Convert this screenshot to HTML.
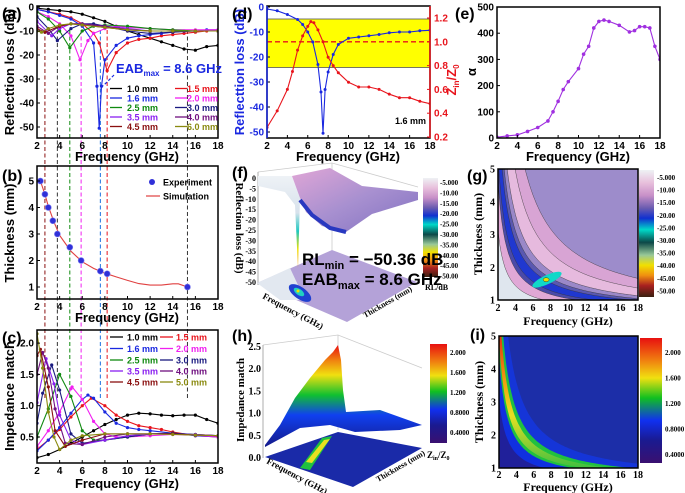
<!DOCTYPE html>
<html><head><meta charset="utf-8"><style>
html,body{margin:0;padding:0;background:#fff}
svg{display:block}
.t{font-family:"Liberation Sans",sans-serif;font-weight:bold}
.s{font-family:"Liberation Serif",serif;font-weight:bold}
</style></head><body>
<svg id="fig" width="685" height="493" viewBox="0 0 685 493" xmlns="http://www.w3.org/2000/svg">
<defs>
<clipPath id="cA"><rect x="37" y="6" width="181" height="132"/></clipPath>
<clipPath id="cB"><rect x="37" y="166" width="181" height="133"/></clipPath>
<clipPath id="cC"><rect x="37" y="330" width="181" height="133"/></clipPath>
<clipPath id="cD"><rect x="267" y="6" width="163" height="132"/></clipPath>
<clipPath id="cE"><rect x="497" y="7" width="163" height="131"/></clipPath>
<clipPath id="cG"><rect x="498" y="169" width="140" height="131"/></clipPath>
<clipPath id="cI"><rect x="499" y="336" width="139" height="132"/></clipPath>
<linearGradient id="rlbar" x1="0" y1="0" x2="0" y2="1">
<stop offset="0" stop-color="#eef2f4"/><stop offset="0.1" stop-color="#e8c0dc"/><stop offset="0.2" stop-color="#c890c8"/><stop offset="0.3" stop-color="#6a5cb0"/><stop offset="0.38" stop-color="#1030d0"/><stop offset="0.47" stop-color="#00d8c8"/><stop offset="0.57" stop-color="#0c4848"/><stop offset="0.67" stop-color="#98c898"/><stop offset="0.75" stop-color="#f0e000"/><stop offset="0.83" stop-color="#f09010"/><stop offset="0.91" stop-color="#a82020"/><stop offset="1" stop-color="#3a2010"/>
</linearGradient>
<linearGradient id="zbar" x1="0" y1="0" x2="0" y2="1">
<stop offset="0" stop-color="#e81010"/><stop offset="0.18" stop-color="#f08010"/><stop offset="0.32" stop-color="#f0e010"/><stop offset="0.48" stop-color="#10c020"/><stop offset="0.66" stop-color="#1030f0"/><stop offset="0.82" stop-color="#1a1a90"/><stop offset="1" stop-color="#3a1070"/>
</linearGradient>
<linearGradient id="ridge" x1="0" y1="345" x2="0" y2="445" gradientUnits="userSpaceOnUse">
<stop offset="0" stop-color="#e81010"/><stop offset="0.15" stop-color="#f08010"/><stop offset="0.3" stop-color="#f0e010"/><stop offset="0.5" stop-color="#10c030"/><stop offset="0.7" stop-color="#1040f0"/><stop offset="1" stop-color="#141c90"/>
</linearGradient>
<linearGradient id="iband" x1="0" y1="336" x2="0" y2="468" gradientUnits="userSpaceOnUse">
<stop offset="0" stop-color="#e83010"/><stop offset="0.35" stop-color="#f0a010"/><stop offset="0.6" stop-color="#e8e020"/><stop offset="1" stop-color="#40c040"/>
</linearGradient>
<linearGradient id="surfF" x1="0" y1="0" x2="1" y2="1">
<stop offset="0" stop-color="#e0a6d6"/><stop offset="0.5" stop-color="#a890d0"/><stop offset="1" stop-color="#8070c0"/>
</linearGradient>
<linearGradient id="cliff" x1="0" y1="0" x2="0" y2="1">
<stop offset="0" stop-color="#eef2f6"/><stop offset="0.4" stop-color="#d8e2ec"/><stop offset="0.6" stop-color="#20c8c0"/><stop offset="0.8" stop-color="#f0e000"/><stop offset="1" stop-color="#f09010"/>
</linearGradient>
</defs>

<!-- panel f 3D (static illustration) -->
<g>
<polyline points="258,172 332,163 418,187" fill="none" stroke="#ccc" stroke-width="0.8"/>
<line x1="332" y1="163" x2="332" y2="250" stroke="#ccc" stroke-width="0.8"/>
<line x1="258" y1="172" x2="258" y2="285" stroke="#999" stroke-width="0.8"/>
<polygon points="257,283 332,250 417,282 347,322" fill="#b4a2d8"/>
<polygon points="257,283 290,268 305,300 280,300" fill="#e2e8f0"/>
<ellipse cx="300" cy="293" rx="13" ry="6" transform="rotate(35 300 293)" fill="#2040d0"/>
<ellipse cx="299" cy="292" rx="6" ry="3" transform="rotate(35 299 292)" fill="#20d0c0"/>
<circle cx="298" cy="291" r="1.5" fill="#f0e000"/>
<polygon points="258,176 292,176 300,198 298,268 295,205 285,192 258,186" fill="url(#cliff)"/>
<polygon points="292,176 330,168 362,186 418,192 418,200 372,214 346,232 322,226 306,212 300,198" fill="url(#surfF)"/>
<polyline points="300,200 312,215 330,228 346,232" fill="none" stroke="#2838c0" stroke-width="4"/>
<rect x="423" y="178" width="15" height="99" fill="url(#rlbar)"/>
<text class="s" x="236" y="228" font-size="11" text-anchor="middle" transform="rotate(90 236 228)">Reflection loss (dB)</text>
<text class="s" x="262" y="298" font-size="9" transform="rotate(28 262 298)">Frequency (GHz)</text>
<text class="s" x="365" y="318" font-size="8" transform="rotate(-30 365 318)">Thickness (mm)</text>
<text class="s" x="425" y="290" font-size="8">RL/dB</text>
<text class="t" x="302" y="265" font-size="17">RL<tspan font-size="11" dy="4">min</tspan><tspan dy="-4"> = −50.36 dB</tspan></text>
<text class="t" x="302" y="285" font-size="17">EAB<tspan font-size="11" dy="4">max</tspan><tspan dy="-4"> = 8.6 GHz</tspan></text>
</g>

<!-- panel h 3D -->
<g>
<polyline points="263,345 338,335 422,368" fill="none" stroke="#ccc" stroke-width="0.8"/>
<line x1="338" y1="335" x2="338" y2="430" stroke="#ccc" stroke-width="0.8"/>
<line x1="263" y1="345" x2="263" y2="458" stroke="#999" stroke-width="0.8"/>
<polygon points="265,457 338,432 422,448 353,487" fill="#1a2aa8"/>
<polygon points="300,468 322,438 332,436 310,470" fill="#20c040"/>
<polygon points="306,462 324,440 330,439 312,463" fill="#e8e020"/>
<polygon points="265,445 280,425 295,398 310,378 325,360 333,352 338,345 341,360 343,390 346,412 380,410 422,425 400,430 355,432 330,425 300,428 265,447" fill="url(#ridge)"/>
<rect x="430" y="344" width="17" height="99" fill="url(#zbar)"/>
<text class="s" x="244" y="400" font-size="11" text-anchor="middle" transform="rotate(-90 244 400)">Impedance match</text>
<text class="s" x="266" y="463" font-size="9" transform="rotate(28 266 463)">Frequency (GHz)</text>
<text class="s" x="378" y="482" font-size="8" transform="rotate(-30 378 482)">Thickness (mm)</text>
<text class="s" x="427" y="458" font-size="9">Z<tspan font-size="6" dy="2">in</tspan><tspan dy="-2">/Z</tspan><tspan font-size="6" dy="2">0</tspan></text>
</g>
</svg>
<script>
// ---------- data ----------
const thickLabels=["1.0 mm","1.5 mm","1.6 mm","2.0 mm","2.5 mm","3.0 mm","3.5 mm","4.0 mm","4.5 mm","6.0 mm"];
const thickLabelsC=["1.0 mm","1.5 mm","1.6 mm","2.0 mm","2.5 mm","3.0 mm","3.5 mm","4.0 mm","4.5 mm","5.0 mm"];
const colors=["#000000","#e8141c","#1a28e0","#f020f0","#108a10","#1a1a80","#8a20f0","#701080","#8a1010","#8a8a10"];
const rlF0=[2,3,4,5,6,7,8,9,10,11,12,13,14,15,16,17,18];
const rlV0=[-0.5,-1,-1.5,-2,-3,-4.5,-6,-8,-10,-11.5,-13,-14.5,-16,-17.5,-18,-16.5,-16];
const rlF1=[2,3,4,5,6,7,7.5,8.2,9,10,11,12,13,14,15,16,17,18];
const rlV1=[-1,-2,-3,-4.5,-7,-11,-15,-26.5,-19,-15,-13.5,-13,-12,-11.5,-11,-10.5,-10,-10];
const rlF2=[2,3,4,5,6,7,7.3,7.5,7.7,8,9,10,11,12,13,14,15,16,17,18];
const rlV2=[-1,-2,-3.5,-5,-8,-15,-33,-50.5,-33,-22,-16,-13,-12,-11.5,-11,-10.5,-10,-10,-9.5,-9.5];
const rlF3=[2,3,4,5,5.8,6.5,7,8,9,10,12,14,16,18];
const rlV3=[-2,-4,-7,-12,-22,-14,-11,-9,-8,-8.5,-9,-9.5,-9.5,-9.5];
const rlF4=[2,3,4,4.9,6,7,8,10,12,14,16,18];
const rlV4=[-2,-5,-10,-17,-10,-8,-7.5,-8,-9,-9.5,-10,-10];
const rlF5=[2,3,3.8,5,6,7,8,10,12,14,16,18];
const rlV5=[-4,-9,-14,-9,-7,-7,-8,-10,-11,-10.5,-10,-10];
const rlF6=[2,3.3,4,5,6,8,10,12,14,16,18];
const rlV6=[-6,-12,-9,-7,-7,-8,-9,-10,-10,-10,-10];
const rlF7=[2,3,4,5,6,8,10,12,14,16,18];
const rlV7=[-8,-11,-8,-7,-7,-8,-9.5,-10,-10,-10,-10];
const rlF8=[2,2.7,4,5,6,8,10,12,14,16,18];
const rlV8=[-9,-10.5,-8,-7,-7.5,-8.5,-9.5,-10,-10,-10,-10];
const rlF9=[2,2.4,3,4,5,6,8,10,12,14,16,18];
const rlV9=[-10,-10.5,-9,-7.5,-7,-7.5,-8.5,-9.5,-10,-10,-10,-10];
const rlF=[rlF0,rlF1,rlF2,rlF3,rlF4,rlF5,rlF6,rlF7,rlF8,rlF9];
const rlV=[rlV0,rlV1,rlV2,rlV3,rlV4,rlV5,rlV6,rlV7,rlV8,rlV9];

const imF0=[2,3,4,5,6,7,8,9,10,11,12,13,14,15,16,17,18];
const imV0=[0.17,0.22,0.3,0.4,0.5,0.6,0.7,0.78,0.85,0.88,0.87,0.85,0.84,0.85,0.85,0.78,0.72];
const imF1=[2,3,4,5,6,6.8,8,9,10,11,12,13,14,16,18];
const imV1=[0.3,0.45,0.62,0.82,1.0,1.12,1.0,0.85,0.75,0.68,0.65,0.62,0.58,0.52,0.5];
const imF2=[2,3,4,5,6,6.5,7,8,9,10,11,12,14,16,18];
const imV2=[0.28,0.45,0.65,0.88,1.1,1.17,1.12,0.9,0.72,0.65,0.62,0.6,0.56,0.52,0.5];
const imF3=[2,3,4,5,5.1,6,7,8,9,10,12,14,16,18];
const imV3=[0.35,0.6,0.9,1.27,1.3,1.1,0.75,0.55,0.5,0.5,0.52,0.54,0.53,0.5];
const imF4=[2,3,4,5,6,7,8,10,12,14,16,18];
const imV4=[0.5,0.95,1.5,1.15,0.6,0.45,0.45,0.5,0.55,0.56,0.54,0.52];
const imF5=[2,2.5,3.3,4,5,6,8,10,12,14,16,18];
const imV5=[0.72,1.2,1.65,1.25,0.55,0.4,0.45,0.5,0.55,0.56,0.54,0.52];
const imF6=[2,2.8,3.5,4,5,6,8,10,12,14,16,18];
const imV6=[1.05,1.75,1.35,0.85,0.45,0.38,0.45,0.52,0.55,0.55,0.54,0.52];
const imF7=[2,2.5,3,3.6,4.5,6,8,10,12,14,16,18];
const imV7=[1.5,1.85,1.6,0.95,0.4,0.38,0.5,0.55,0.55,0.55,0.53,0.52];
const imF8=[2,2.3,3,3.6,4.5,6,8,10,12,14,16,18];
const imV8=[1.8,1.9,1.3,0.6,0.35,0.45,0.55,0.55,0.55,0.55,0.53,0.52];
const imF9=[2,2.5,3,3.5,4,5,6,8,10,12,14,16,18];
const imV9=[2.15,1.6,0.9,0.5,0.3,0.45,0.52,0.55,0.55,0.55,0.54,0.53,0.52];
const imF=[imF0,imF1,imF2,imF3,imF4,imF5,imF6,imF7,imF8,imF9];
const imV=[imV0,imV1,imV2,imV3,imV4,imV5,imV6,imV7,imV8,imV9];

const expF=[2.3,2.7,3,3.4,3.8,4.9,5.9,7.6,8.2,15.3];
const expT=[5,4.5,4,3.5,3,2.5,2,1.6,1.5,1];
const simF=[2.3,2.7,3,3.5,4,5,6,7,8,9,10,11,12,13,14,14.5,15.3];
const simT=[5,4.5,4.05,3.45,2.95,2.35,1.95,1.7,1.52,1.38,1.25,1.13,1.07,1.07,1.12,1.12,1.0];
const guideF=[2.7,3.8,4.9,5.9,7.6,8.2,15.3];
const guideC=["#8a1010","#333333","#108a10","#f020f0","#1a70e0","#e8141c","#333333"];

const dF=[2,3,4,5,5.5,6,6.5,7,7.3,7.5,7.7,8,8.5,9,10,11,12,13,14,15,16,17,18];
const dRL=[-0.8,-1.5,-3,-5,-7,-10,-14,-23,-34,-50.5,-33,-26,-19,-15,-12.5,-12,-11.5,-11,-10.3,-10,-10,-9.5,-9.3];
const zF=[2,3,4,4.5,5,5.5,6,6.3,6.6,7,7.5,8,8.5,9,10,11,12,13,14,15,16,17,18];
const zV=[0.28,0.42,0.6,0.75,0.93,1.05,1.13,1.17,1.16,1.1,1.0,0.87,0.8,0.74,0.66,0.62,0.62,0.6,0.56,0.53,0.53,0.5,0.48];

const eF=[2,3,4,5,6,7,7.5,8,8.5,9,10,10.5,11,11.5,12,12.5,13,14,15,15.5,16,16.5,17,17.5,18];
const eA=[3,8,12,25,40,65,100,140,185,215,265,320,350,420,445,450,445,430,405,410,425,425,420,350,300];

const gLevels=[18,13,9,7.5,6.5,4.8,4,2.5];
const gColors=["#d8a4d4","#e6bade","#9a88c8","#5a58b0","#2038d0","#4a4aa8","#e0a8d6","#dfe6ee"];
const iLevels=[9,6.5,5.6,4.3,3.8,2.5];
const iColors=["#1535d8","#20c040","url(#iband)","#20c040","#1030e0","#20209a"];

const xTicks=[2,4,6,8,10,12,14,16,18];
const rlTicks=[0,-10,-20,-30,-40,-50];
const thTicks=[1,2,3,4,5];
const imTicks=[0.5,1.0,1.5,2.0];
const zTicks=[0.2,0.4,0.6,0.8,1.0,1.2];
const aTicks=[0,100,200,300,400,500];
const rlBarLabels=["-5.000","-10.00","-15.00","-20.00","-25.00","-30.00","-35.00","-40.00","-45.00","-50.00"];
const zBarLabels=["2.000","1.600","1.200","0.8000","0.4000"];
const fZTicks=[0,-5,-10,-15,-20,-25,-30,-35,-40,-45,-50];
const hZTicks=[0.0,0.5,1.0,1.5,2.0,2.5];

// ---------- helpers ----------
const NS='http://www.w3.org/2000/svg';
const svg=document.getElementById('fig');
function mk(tag,attrs,parent){const e=document.createElementNS(NS,tag);for(const k in attrs)e.setAttribute(k,attrs[k]);(parent||svg).appendChild(e);return e;}
function lin(d0,d1,r0,r1){return v=>r0+(v-d0)*(r1-r0)/(d1-d0);}
function pathOf(fs,vs,sx,sy){return fs.map((f,i)=>(i?'L':'M')+sx(f).toFixed(1)+','+sy(vs[i]).toFixed(1)).join('');}
function text(x,y,s,size,anchor,cls,fill,name){const e=mk('text',{x:x,y:y,'font-size':size,'text-anchor':anchor||'start',class:cls||'t',fill:fill||'#000'});e.textContent=s;


return e;}
function axesBox(x0,y0,x1,y1,sx,sy,xt,yt,ylab,name,opts){
 opts=opts||{};
 const r=mk('rect',{x:x0,y:y0,width:x1-x0,height:y1-y0,fill:'none',stroke:opts.stroke||'#000','stroke-width':1.5});
 
 
 xt.forEach(v=>{const X=sx(v);
  const t=mk('line',{x1:X,y1:y1,x2:X,y2:y1-3,stroke:'#000','stroke-width':1});
  
  
  text(X,y1+11,String(v),opts.xs||10,'middle',opts.cls,'#000',name+'-x-tick-label');});
 yt.forEach(v=>{const Y=sy(v);
  const t=mk('line',{x1:x0,y1:Y,x2:x0+3,y2:Y,stroke:'#000','stroke-width':1});
  
  
  text(x0-3,Y+3.5,ylab(v),opts.ys||10,'end',opts.cls,opts.yc||'#000',name+'-y-tick-label');});
}
function series(fs,vs,sx,sy,color,clip,name,r){
 const g=mk('g',{'clip-path':'url(#'+clip+')'});
 
 
 const p=mk('path',{d:pathOf(fs,vs,sx,sy),fill:'none',stroke:color,'stroke-width':1.1},g);
 
 
 fs.forEach((f,i)=>{const c=mk('circle',{cx:sx(f),cy:sy(vs[i]),r:r||1.6,fill:color},g);
  
  });
}

// ---------- panel a ----------
const fx=lin(2,18,37,218);
const yA=lin(0,-50,7,127);
const yB=lin(1,5,287,181);
const yC=lin(0.5,1.0,437,405.7);
guideF.forEach((f,i)=>{const l=mk('line',{x1:fx(f),y1:30,x2:fx(f),y2:400,stroke:guideC[i],'stroke-width':1,'stroke-dasharray':'4,2.5'});
 
 });
rlF.forEach((fs,i)=>series(fs,rlV[i],fx,yA,colors[i],'cA','rl-series-'+i));
axesBox(37,6,218,138,fx,yA,xTicks,rlTicks,v=>String(v),'panel-a');
text(127,161,'Frequency (GHz)',13,'middle','t','#000','a-x-title');
const ta=text(14,72,'Reflecttion loss (dB)',13,'middle','t','#000','a-y-title');ta.setAttribute('transform','rotate(-90 14 72)');
text(2,19,'(a)',16,'start','t','#000','a-panel-label').setAttribute('font-weight','normal');
const legRows=[88.5,98,107.5,117,126.5];
thickLabels.forEach((s,i)=>{const col=i%2,row=Math.floor(i/2);const lx=col?175:110,tx=col?187:127,y=legRows[row];
 const l=mk('line',{x1:lx,y1:y,x2:lx+12,y2:y,stroke:colors[i],'stroke-width':1.3});
 
 
 text(tx,y+3.3,s,9,'start','t',colors[i],'a-legend-entry');});
const eab=text(116,73,'',13,'start','t','#1a28e0','a-eab-annotation');
eab.innerHTML='EAB<tspan font-size="8" dy="3">max</tspan><tspan dy="-3"> = 8.6 GHz</tspan>';
const arr=mk('line',{x1:114,y1:75,x2:103,y2:86,stroke:'#1a28e0','stroke-width':1.2,'stroke-dasharray':'3,2'});



// ---------- panel b ----------
const sim=mk('path',{d:pathOf(simF,simT,fx,yB),fill:'none',stroke:'#e04040','stroke-width':1.1});


expF.forEach((f,i)=>{const c=mk('circle',{cx:fx(f),cy:yB(expT[i]),r:3,fill:'#3030d8',stroke:'#8080f0','stroke-width':0.6});
 
 });
axesBox(37,166,218,299,fx,yB,xTicks,thTicks,v=>String(v),'panel-b');
text(127,322,'Frequency (GHz)',13,'middle','t','#000','b-x-title');
const tb=text(14,233,'Thickness (mm)',13,'middle','t','#000','b-y-title');tb.setAttribute('transform','rotate(-90 14 233)');
text(2,181,'(b)',16,'start','t','#000','b-panel-label').setAttribute('font-weight','normal');
const lb1=mk('circle',{cx:152,cy:182,r:3,fill:'#3030d8'});


text(163,185.5,'Experiment',9,'start','t','#000','b-legend-experiment');
const lb2=mk('line',{x1:146,y1:196,x2:160,y2:196,stroke:'#e04040','stroke-width':1.2});


text(163,199.5,'Simulation',9,'start','t','#000','b-legend-simulation');

// ---------- panel c ----------
imF.forEach((fs,i)=>series(fs,imV[i],fx,yC,colors[i],'cC','impedance-series-'+i));
axesBox(37,330,218,463,fx,yC,xTicks,imTicks,v=>v.toFixed(1),'panel-c');
text(127,488,'Frequency (GHz)',13,'middle','t','#000','c-x-title');
const tc=text(14,396,'Impedance match',13,'middle','t','#000','c-y-title');tc.setAttribute('transform','rotate(-90 14 396)');
text(2,343,'(c)',16,'start','t','#000','c-panel-label').setAttribute('font-weight','normal');
const legRowsC=[337,348.5,360,371,382];
thickLabelsC.forEach((s,i)=>{const col=i%2,row=Math.floor(i/2);const lx=col?160:110,tx=col?176:127,y=legRowsC[row];
 const l=mk('line',{x1:lx,y1:y,x2:lx+13,y2:y,stroke:colors[i],'stroke-width':1.3});
 
 
 text(tx,y+3.3,s,9,'start','t',colors[i],'c-legend-entry');});

// ---------- panel d ----------
const dx=lin(2,18,267,430);
const yD=lin(0,-50,7,132);
const yZ=lin(1.2,0.2,18,137);
const band=mk('rect',{x:267,y:yD(-4.8),width:163,height:yD(-24.2)-yD(-4.8),fill:'#ffff00',stroke:'#555','stroke-width':0.8});


const zl=mk('line',{x1:267,y1:yZ(1.0),x2:430,y2:yZ(1.0),stroke:'#e8141c','stroke-width':1.3,'stroke-dasharray':'5,3'});


series(dF,dRL,dx,yD,'#1a28e0','cD','d-rl-series',1.5);
series(zF,zV,dx,yZ,'#e8141c','cD','d-z-series',1.5);
axesBox(267,6,430,138,dx,yD,xTicks,[0,-10,-20,-30,-40,-50],v=>String(v),'panel-d',{yc:'#1a28e0'});
const rax=mk('line',{x1:430,y1:6,x2:430,y2:138,stroke:'#e8141c','stroke-width':1.5});


const lax=mk('line',{x1:267,y1:6,x2:267,y2:138,stroke:'#1a28e0','stroke-width':1.5});


zTicks.forEach(v=>{const t=mk('line',{x1:430,y1:yZ(v),x2:427,y2:yZ(v),stroke:'#e8141c','stroke-width':1});
 
 
 text(434,yZ(v)+3.5,v.toFixed(1),10,'start','t','#e8141c','d-right-tick-label');});
text(348,161,'Frequency (GHz)',13,'middle','t','#000','d-x-title');
const td=text(244,72,'Reflecttion loss (dB)',13,'middle','t','#1a28e0','d-y-title');td.setAttribute('transform','rotate(-90 244 72)');
const tz=text(456,80,'',13,'middle','t','#e8141c','d-y2-title');tz.setAttribute('transform','rotate(-90 456 80)');
tz.innerHTML='Z<tspan font-size="8" dy="3">in</tspan><tspan dy="-3">/Z</tspan><tspan font-size="8" dy="3">0</tspan>';
text(395,124,'1.6 mm',9,'start','t','#000','d-thickness-note');
text(232,19,'(d)',16,'start','t','#000','d-panel-label').setAttribute('font-weight','normal');

// ---------- panel e ----------
const ex=lin(2,18,497,660);
const yE=lin(0,500,138,7);
series(eF,eA,ex,yE,'#a030e0','cE','e-alpha-series',1.8);
axesBox(497,7,660,138,ex,yE,xTicks,aTicks,v=>String(v),'panel-e');
text(578,161,'Frequency (GHz)',13,'middle','t','#000','e-x-title');
const te=text(476,72,'α',13,'middle','t','#000','e-y-title');te.setAttribute('transform','rotate(-90 476 72)');
text(455,19,'(e)',16,'start','t','#000','e-panel-label').setAttribute('font-weight','normal');

// ---------- heatmaps ----------
// contour family: t = 0.6 + c/(f-1)
function heat(levels,cols,sx,sy,clip,bg,x0,y0,w,h,name,lines){
 const g=mk('g',{'clip-path':'url(#'+clip+')'});
 
 
 const b=mk('rect',{x:x0,y:y0,width:w,height:h,fill:bg},g);
 
 
 levels.forEach((c,k)=>{let pts=[];for(let f=2;f<=18.01;f+=0.2){let t=0.6+c/(f-1);t=Math.min(Math.max(t,0.5),6);pts.push(sx(f).toFixed(1)+','+sy(t).toFixed(1));}
  pts.push(sx(18)+','+sy(0.5));pts.push(sx(2)+','+sy(0.5));
  const pg=mk('polygon',{points:pts.join(' '),fill:cols[k],stroke:lines?'#333':'none','stroke-width':0.4},g);
  
  });
 return g;}
const gx=lin(2,18,498,638);
const gy=lin(1,5,300,169);
const gg=heat(gLevels,gColors,gx,gy,'cG','#9d8ccb',498,169,140,131,'g-contour-map',true);
const cy1=mk('ellipse',{cx:gx(7.6),cy:gy(1.62),rx:16,ry:4.5,transform:'rotate(-25 '+gx(7.6)+' '+gy(1.62)+')',fill:'#10d8c8'},gg);


const cy2=mk('ellipse',{cx:gx(7.5),cy:gy(1.62),rx:3,ry:2,fill:'#e8e000',stroke:'#333','stroke-width':0.5},gg);


const gfr=mk('rect',{x:498,y:169,width:140,height:131,fill:'none',stroke:'#000','stroke-width':1.5});


xTicks.forEach(v=>text(gx(v),311,String(v),10,'middle','s','#000','g-x-tick-label'));
thTicks.forEach(v=>text(495,gy(v)+3.5,String(v),10,'end','s','#000','g-y-tick-label'));
text(568,325,'Frequency (GHz)',12,'middle','s','#000','g-x-title');
const tg=text(482,234,'Thickness (mm)',12,'middle','s','#000','g-y-title');tg.setAttribute('transform','rotate(-90 482 234)');
text(467,181,'(g)',16,'start','t','#000','g-panel-label').setAttribute('font-weight','normal');
const gbar=mk('rect',{x:639,y:170,width:15,height:127,fill:'url(#rlbar)'});


rlBarLabels.forEach((s,i)=>text(657,177+i*12.6+3,s,7,'start','s','#000','g-colorbar-label'));

const ix=lin(2,18,499,638);
const iy=lin(1,5,468,336);
heat(iLevels,iColors,ix,iy,'cI','#1c2ea8',499,336,139,132,'i-contour-map',false);
const ifr=mk('rect',{x:499,y:336,width:139,height:132,fill:'none',stroke:'#000','stroke-width':1.5});


xTicks.forEach(v=>text(ix(v),478,String(v),10,'middle','s','#000','i-x-tick-label'));
thTicks.forEach(v=>text(496,iy(v)+3.5,String(v),10,'end','s','#000','i-y-tick-label'));
text(568,491,'Frequency (GHz)',12,'middle','s','#000','i-x-title');
const ti=text(483,402,'Thickness (mm)',12,'middle','s','#000','i-y-title');ti.setAttribute('transform','rotate(-90 483 402)');
text(470,340,'(i)',16,'start','t','#000','i-panel-label').setAttribute('font-weight','normal');
const ibar=mk('rect',{x:640,y:338,width:22,height:125,fill:'url(#zbar)'});


zBarLabels.forEach((s,i)=>text(665,352+i*25.5+3,s,7,'start','s','#000','i-colorbar-label'));

// ---------- 3D panel labels ----------
fZTicks.forEach((v,i)=>text(256,178+i*10.4+3,String(v),8,'end','s','#000','f-z-tick-label'));
rlBarLabels.forEach((s,i)=>text(440,182+i*10.4+3,s,7,'start','s','#000','f-colorbar-label'));
text(232,178,'(f)',16,'start','t','#000','f-panel-label').setAttribute('font-weight','normal');
hZTicks.forEach((v,i)=>text(261,458-i*22.2+3,v.toFixed(1),10,'end','s','#000','h-z-tick-label'));
zBarLabels.forEach((s,i)=>text(450,352+i*20+3,s,7,'start','s','#000','h-colorbar-label'));
text(232,341,'(h)',16,'start','t','#000','h-panel-label').setAttribute('font-weight','normal');
</script>
</body></html>
